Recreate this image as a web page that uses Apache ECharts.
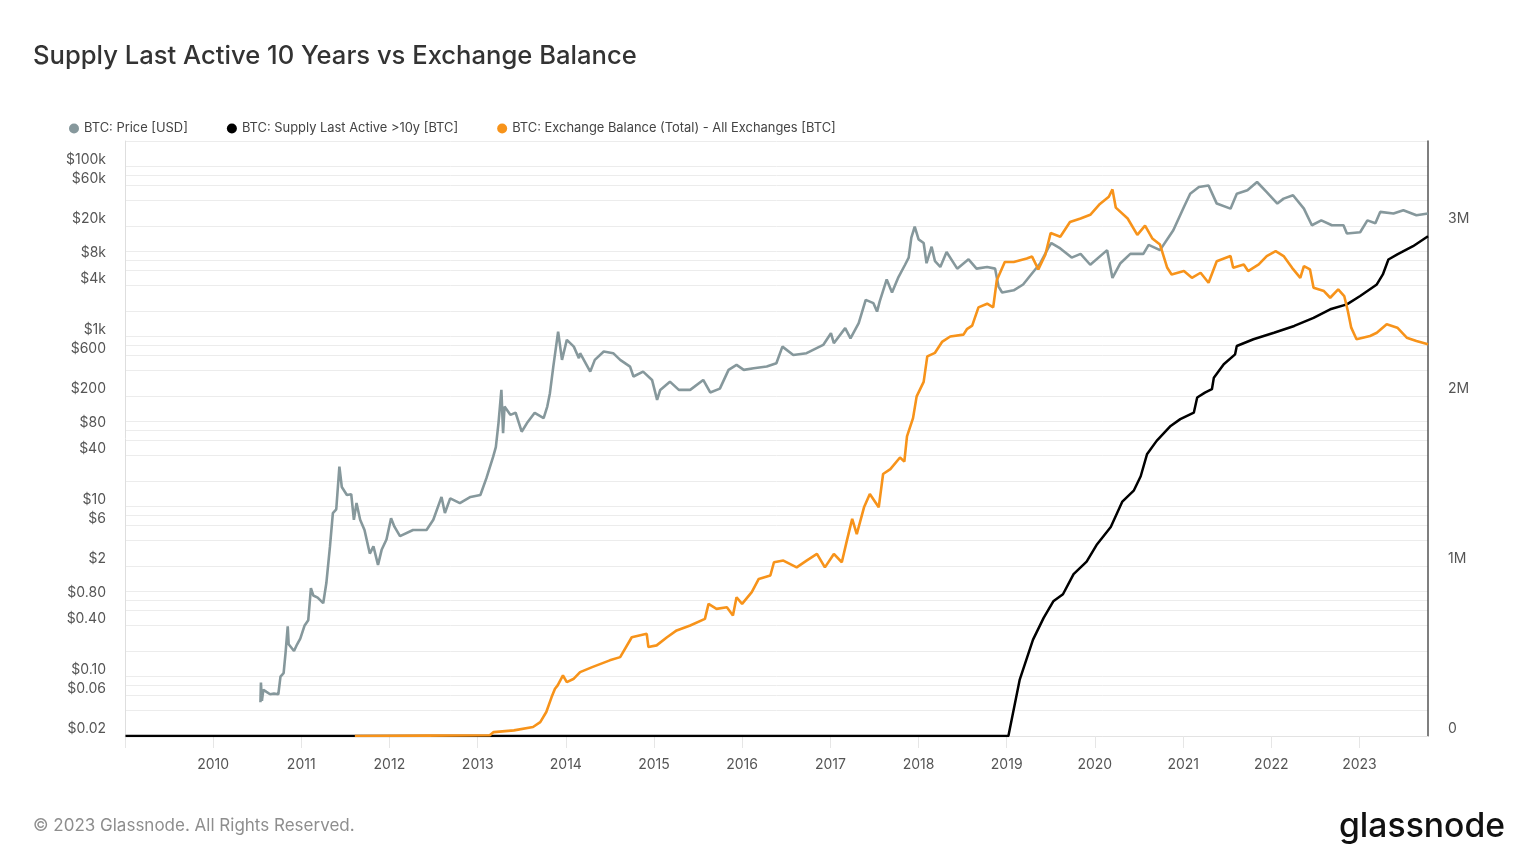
<!DOCTYPE html>
<html><head><meta charset="utf-8">
<script src="https://cdn.jsdelivr.net/npm/echarts@6/dist/echarts.min.js"></script>
<style>html,body{margin:0;padding:0;background:#fff}#chart{width:1536px;height:864px}</style>
</head><body><div id="chart"></div>
<script>
// BTC price [USD]
const priceData = [
['2010-07-16',0.05],['2010-07-18',0.085],['2010-07-22',0.052],['2010-07-28',0.07],['2010-08-10',0.066],['2010-08-25',0.062],['2010-09-10',0.063],['2010-09-28',0.062],['2010-10-05',0.062],['2010-10-07',0.1],['2010-10-20',0.11],['2010-10-28',0.19],['2010-11-06',0.39],['2010-11-10',0.24],['2010-11-18',0.25],['2010-12-02',0.2],['2010-12-15',0.24],['2010-12-28',0.28],
['2011-01-15',0.40],['2011-01-30',0.46],['2011-02-10',1.1],['2011-02-20',0.9],['2011-03-10',0.85],['2011-04-02',0.73],['2011-04-15',1.26],['2011-04-30',3.4],['2011-05-12',8.4],['2011-05-26',9.3],['2011-06-08',29.5],['2011-06-18',17],['2011-07-09',13.7],['2011-07-27',14],['2011-08-07',7],['2011-08-18',11],['2011-09-02',7],['2011-09-20',5.3],['2011-10-12',2.8],['2011-10-27',3.4],['2011-11-15',2.06],['2011-11-30',3.1],['2011-12-20',4.1],
['2012-01-08',7.3],['2012-01-22',5.8],['2012-02-14',4.5],['2012-04-08',5.3],['2012-06-03',5.3],['2012-07-01',7],['2012-08-04',13],['2012-08-18',8.4],['2012-09-09',12.5],['2012-10-19',11],['2012-12-02',13],
['2013-01-12',13.7],['2013-02-06',21.6],['2013-03-06',38.7],['2013-03-17',50],['2013-03-28',96],['2013-04-09',236],['2013-04-16',73],['2013-04-22',150],['2013-05-16',120],['2013-06-07',127],['2013-07-02',76],['2013-07-24',96],['2013-08-25',127],['2013-10-01',110],['2013-10-16',150],['2013-10-27',216],['2013-11-10',444],['2013-11-30',1145],['2013-12-16',532],
['2014-01-05',914],['2014-02-03',762],['2014-02-24',556],['2014-03-01',638],['2014-04-12',387],['2014-05-01',532],['2014-06-07',667],['2014-07-16',638],['2014-08-14',532],['2014-09-24',444],['2014-10-08',339],['2014-11-17',387],['2014-12-24',309],
['2015-01-14',180],['2015-01-27',236],['2015-03-08',295],['2015-04-14',236],['2015-05-31',236],['2015-07-24',309],['2015-08-22',220],['2015-10-01',244],['2015-11-06',406],['2015-12-09',465],
['2016-01-08',406],['2016-02-18',425],['2016-04-12',444],['2016-05-22',486],['2016-06-16',762],['2016-07-31',608],['2016-09-24',638],['2016-12-02',798],
['2017-01-03',1096],['2017-01-15',836],['2017-03-03',1257],['2017-03-25',955],['2017-04-28',1436],['2017-05-27',2704],['2017-06-28',2473],['2017-07-13',1968],['2017-07-24',2600],['2017-08-22',4700],['2017-09-13',3300],['2017-10-08',4900],['2017-11-06',7000],['2017-11-21',8500],['2017-12-02',14600],['2017-12-16',19600],
['2018-01-01',13900],['2018-01-22',12600],['2018-02-03',7300],['2018-02-24',11400],['2018-03-10',7700],['2018-04-01',6600],['2018-04-27',9900],['2018-06-10',6300],['2018-07-27',8100],['2018-08-29',6300],['2018-10-12',6600],['2018-11-14',6300],['2018-11-28',3900],['2018-12-13',3300],
['2019-01-30',3500],['2019-03-10',4100],['2019-04-08',5200],['2019-05-20',7300],['2019-06-25',11400],['2019-07-05',12600],['2019-08-11',10900],['2019-09-27',8500],['2019-11-03',9400],['2019-12-13',7000],
['2020-02-21',10400],['2020-03-14',4900],['2020-04-16',7300],['2020-05-27',9400],['2020-07-20',9400],['2020-08-11',12000],['2020-09-27',10400],['2020-11-21',17800],
['2021-01-04',33500],['2021-01-30',48000],['2021-03-07',57500],['2021-04-16',60000],['2021-05-20',36700],['2021-07-16',32000],['2021-08-11',48000],['2021-09-24',52600],['2021-11-03',65900],['2021-12-13',50000],
['2022-01-26',36700],['2022-02-21',42000],['2022-04-01',46000],['2022-05-16',32000],['2022-06-18',20400],['2022-07-27',23300],['2022-09-09',20400],['2022-10-27',20400],['2022-11-10',16300],
['2023-01-04',16900],['2023-02-03',23300],['2023-03-08',21600],['2023-03-28',29300],['2023-05-22',28100],['2023-07-02',30600],['2023-08-25',26700],['2023-10-12',28100]
];
// BTC supply last active >10y [million BTC]
const supplyData = [
['2009-01-03',0],['2019-01-08',0],['2019-02-24',0.332],['2019-04-20',0.567],['2019-06-03',0.695],['2019-07-13',0.792],['2019-08-22',0.834],['2019-10-05',0.952],['2019-11-28',1.026],['2020-01-08',1.123],['2020-03-07',1.229],['2020-04-24',1.379],['2020-06-10',1.443],['2020-07-09',1.528],['2020-08-04',1.657],['2020-09-13',1.736],['2020-11-10',1.824],['2020-12-20',1.864],['2021-02-14',1.902],['2021-02-28',1.991],['2021-04-01',2.02],['2021-04-30',2.04],['2021-05-08',2.108],['2021-06-18',2.187],['2021-08-04',2.245],['2021-08-11',2.294],['2021-10-19',2.334],['2022-01-12',2.372],['2022-04-06',2.412],['2022-06-25',2.46],['2022-09-02',2.51],['2022-11-10',2.539],['2023-01-04',2.588],['2023-03-14',2.656],['2023-04-08',2.715],['2023-05-01',2.803],['2023-06-07',2.833],['2023-08-11',2.881],['2023-10-12',2.94]
];
// BTC exchange balance, all exchanges [million BTC]
const exchangeData = [
['2011-08-11',0],['2012-06-01',0.002],['2013-02-20',0.004],['2013-03-08',0.023],['2013-05-31',0.033],['2013-08-18',0.053],['2013-09-17',0.082],['2013-10-12',0.141],['2013-11-03',0.229],['2013-11-17',0.278],['2013-11-28',0.298],['2013-12-20',0.356],['2014-01-05',0.317],['2014-02-03',0.337],['2014-03-01',0.376],['2014-04-20',0.405],['2014-07-02',0.445],['2014-08-14',0.464],['2014-10-01',0.581],['2014-12-02',0.601],['2014-12-09',0.523],['2015-01-12',0.533],['2015-02-24',0.581],['2015-04-05',0.621],['2015-05-31',0.65],['2015-07-31',0.689],['2015-08-15',0.777],['2015-09-17',0.748],['2015-10-30',0.757],['2015-11-24',0.709],['2015-12-09',0.816],['2016-01-01',0.777],['2016-02-10',0.846],['2016-03-10',0.924],['2016-04-27',0.944],['2016-05-12',1.022],['2016-06-20',1.032],['2016-08-14',0.992],['2016-09-24',1.032],['2016-11-06',1.071],['2016-12-09',0.992],['2017-01-15',1.071],['2017-02-17',1.022],['2017-03-10',1.149],['2017-04-01',1.277],['2017-04-20',1.188],['2017-05-20',1.345],['2017-06-13',1.423],['2017-07-20',1.345],['2017-08-07',1.541],['2017-09-06',1.57],['2017-10-16',1.638],['2017-11-03',1.614],['2017-11-14',1.763],['2017-12-09',1.87],['2017-12-24',1.998],['2018-01-22',2.083],['2018-02-06',2.233],['2018-03-10',2.254],['2018-04-08',2.318],['2018-05-12',2.35],['2018-07-06',2.361],['2018-07-20',2.393],['2018-08-11',2.414],['2018-09-06',2.521],['2018-10-12',2.543],['2018-11-06',2.521],['2018-11-21',2.681],['2018-12-24',2.788],['2019-01-30',2.788],['2019-03-25',2.809],['2019-04-16',2.82],['2019-05-12',2.745],['2019-06-10',2.831],['2019-07-02',2.959],['2019-08-11',2.937],['2019-09-20',3.023],['2019-11-03',3.044],['2019-12-13',3.066],['2020-01-22',3.13],['2020-02-28',3.172],['2020-03-14',3.215],['2020-03-28',3.108],['2020-05-16',3.044],['2020-06-25',2.948],['2020-07-27',3.002],['2020-08-26',2.927],['2020-09-27',2.891],['2020-10-27',2.754],['2020-11-14',2.715],['2021-01-04',2.735],['2021-02-06',2.695],['2021-03-14',2.725],['2021-04-16',2.666],['2021-05-20',2.793],['2021-07-16',2.823],['2021-07-27',2.754],['2021-09-09',2.774],['2021-09-27',2.735],['2021-11-10',2.774],['2021-12-13',2.823],['2022-01-19',2.852],['2022-02-21',2.823],['2022-03-28',2.754],['2022-05-01',2.695],['2022-05-16',2.764],['2022-06-10',2.745],['2022-06-25',2.637],['2022-08-07',2.617],['2022-09-02',2.578],['2022-10-05',2.627],['2022-10-30',2.588],['2022-11-14',2.5],['2022-11-28',2.402],['2022-12-20',2.334],['2023-02-14',2.353],['2023-03-14',2.372],['2023-04-24',2.422],['2023-06-07',2.402],['2023-07-16',2.343],['2023-08-25',2.323],['2023-10-12',2.304]
];
const seriesNames = ['BTC: Price [USD]','BTC: Supply Last Active >10y [BTC]','BTC: Exchange Balance (Total) - All Exchanges [BTC]'];
const priceGridTicks = [0.02,0.04,0.06,0.08,0.1,0.2,0.4,0.6,0.8,1,2,4,6,8,10,20,40,60,80,100,200,400,600,800,1000,2000,4000,6000,8000,10000,20000,40000,60000,80000,100000,200000];
const priceLabelTicks = [0.02,0.06,0.1,0.4,0.8,2,6,10,40,80,200,600,1000,4000,8000,20000,60000,100000];
const balanceTicks = [0,1,2,3];
const firstYearLabel = 2010;

const FONT = 'Inter, "Noto Sans", sans-serif';
const YEAR_MS = 365.25 * 24 * 3600 * 1000;
function fmtPrice(v) {
  if (v >= 1000) return '$' + Math.round(v / 1000) + 'k';
  if (v >= 1) return '$' + Math.round(v);
  return '$' + v.toFixed(2);
}
const chart = echarts.init(document.getElementById('chart'), null, {renderer: 'canvas'});
chart.setOption({
  animation: false,
  backgroundColor: '#fff',
  title: {
    text: 'Supply Last Active 10 Years vs Exchange Balance',
    left: 28, top: 38,
    textStyle: {fontFamily: FONT, fontSize: 25.6, fontWeight: 500, color: '#333'}
  },
  legend: {
    left: 64, top: 117, icon: 'circle', itemWidth: 10, itemHeight: 10, itemGap: 39,
    textStyle: {fontFamily: FONT, fontSize: 12.9, color: '#444'},
    data: seriesNames
  },
  grid: {left: 125, right: 108, top: 141, bottom: 128, containLabel: false},
  xAxis: {
    type: 'time', min: '2009-01-01', max: '2023-10-12',
    splitNumber: 15, minInterval: YEAR_MS * 0.99, maxInterval: YEAR_MS * 1.01,
    axisLine: {show: true, lineStyle: {color: '#e3e3e3', width: 1}},
    axisTick: {show: true, length: 12, lineStyle: {color: '#e6e6e6'}},
    axisLabel: {
      formatter: v => { const y = new Date(v).getFullYear(); return y < firstYearLabel ? '' : String(y); },
      color: '#555', fontFamily: FONT, fontSize: 14, margin: 22, hideOverlap: false
    },
    splitLine: {show: false}
  },
  yAxis: [{
    type: 'log', logBase: 10, min: 0.02, max: 200000, position: 'left',
    axisLine: {show: true, lineStyle: {color: '#dedede'}},
    axisTick: {show: false, customValues: priceGridTicks},
    splitLine: {show: true, lineStyle: {color: '#ececec', width: 1}},
    axisLabel: {customValues: priceLabelTicks, formatter: fmtPrice, color: '#555', fontFamily: FONT, fontSize: 14, margin: 19, verticalAlign: 'bottom'}
  }, {
    type: 'value', min: 0, max: 3.5, interval: 1, position: 'right',
    axisLine: {show: true, lineStyle: {color: '#555', width: 1.5}},
    axisTick: {show: false},
    splitLine: {show: false},
    axisLabel: {customValues: balanceTicks, formatter: v => v === 0 ? '0' : v + 'M', color: '#555', fontFamily: FONT, fontSize: 14, margin: 20, verticalAlign: 'bottom'}
  }],
  series: [{
    name: seriesNames[0], type: 'line', yAxisIndex: 0, data: priceData, showSymbol: false,
    lineStyle: {color: '#86989c', width: 2.6}, itemStyle: {color: '#86989c'}, z: 2
  }, {
    name: seriesNames[1], type: 'line', yAxisIndex: 1, data: supplyData, showSymbol: false,
    lineStyle: {color: '#000', width: 2.5}, itemStyle: {color: '#000'}, z: 3
  }, {
    name: seriesNames[2], type: 'line', yAxisIndex: 1, data: exchangeData, showSymbol: false,
    lineStyle: {color: '#f7931a', width: 2.6}, itemStyle: {color: '#f7931a'}, z: 4
  }],
  graphic: [{
    type: 'text', left: 33, top: 817,
    style: {text: '© 2023 Glassnode. All Rights Reserved.', font: '17px ' + FONT, fill: '#8e8e8e'}
  }, {
    type: 'text', right: 31, top: 810,
    style: {text: 'glassnode', font: '500 33.7px ' + FONT, fill: '#111'}
  }]
});
</script></body></html>
